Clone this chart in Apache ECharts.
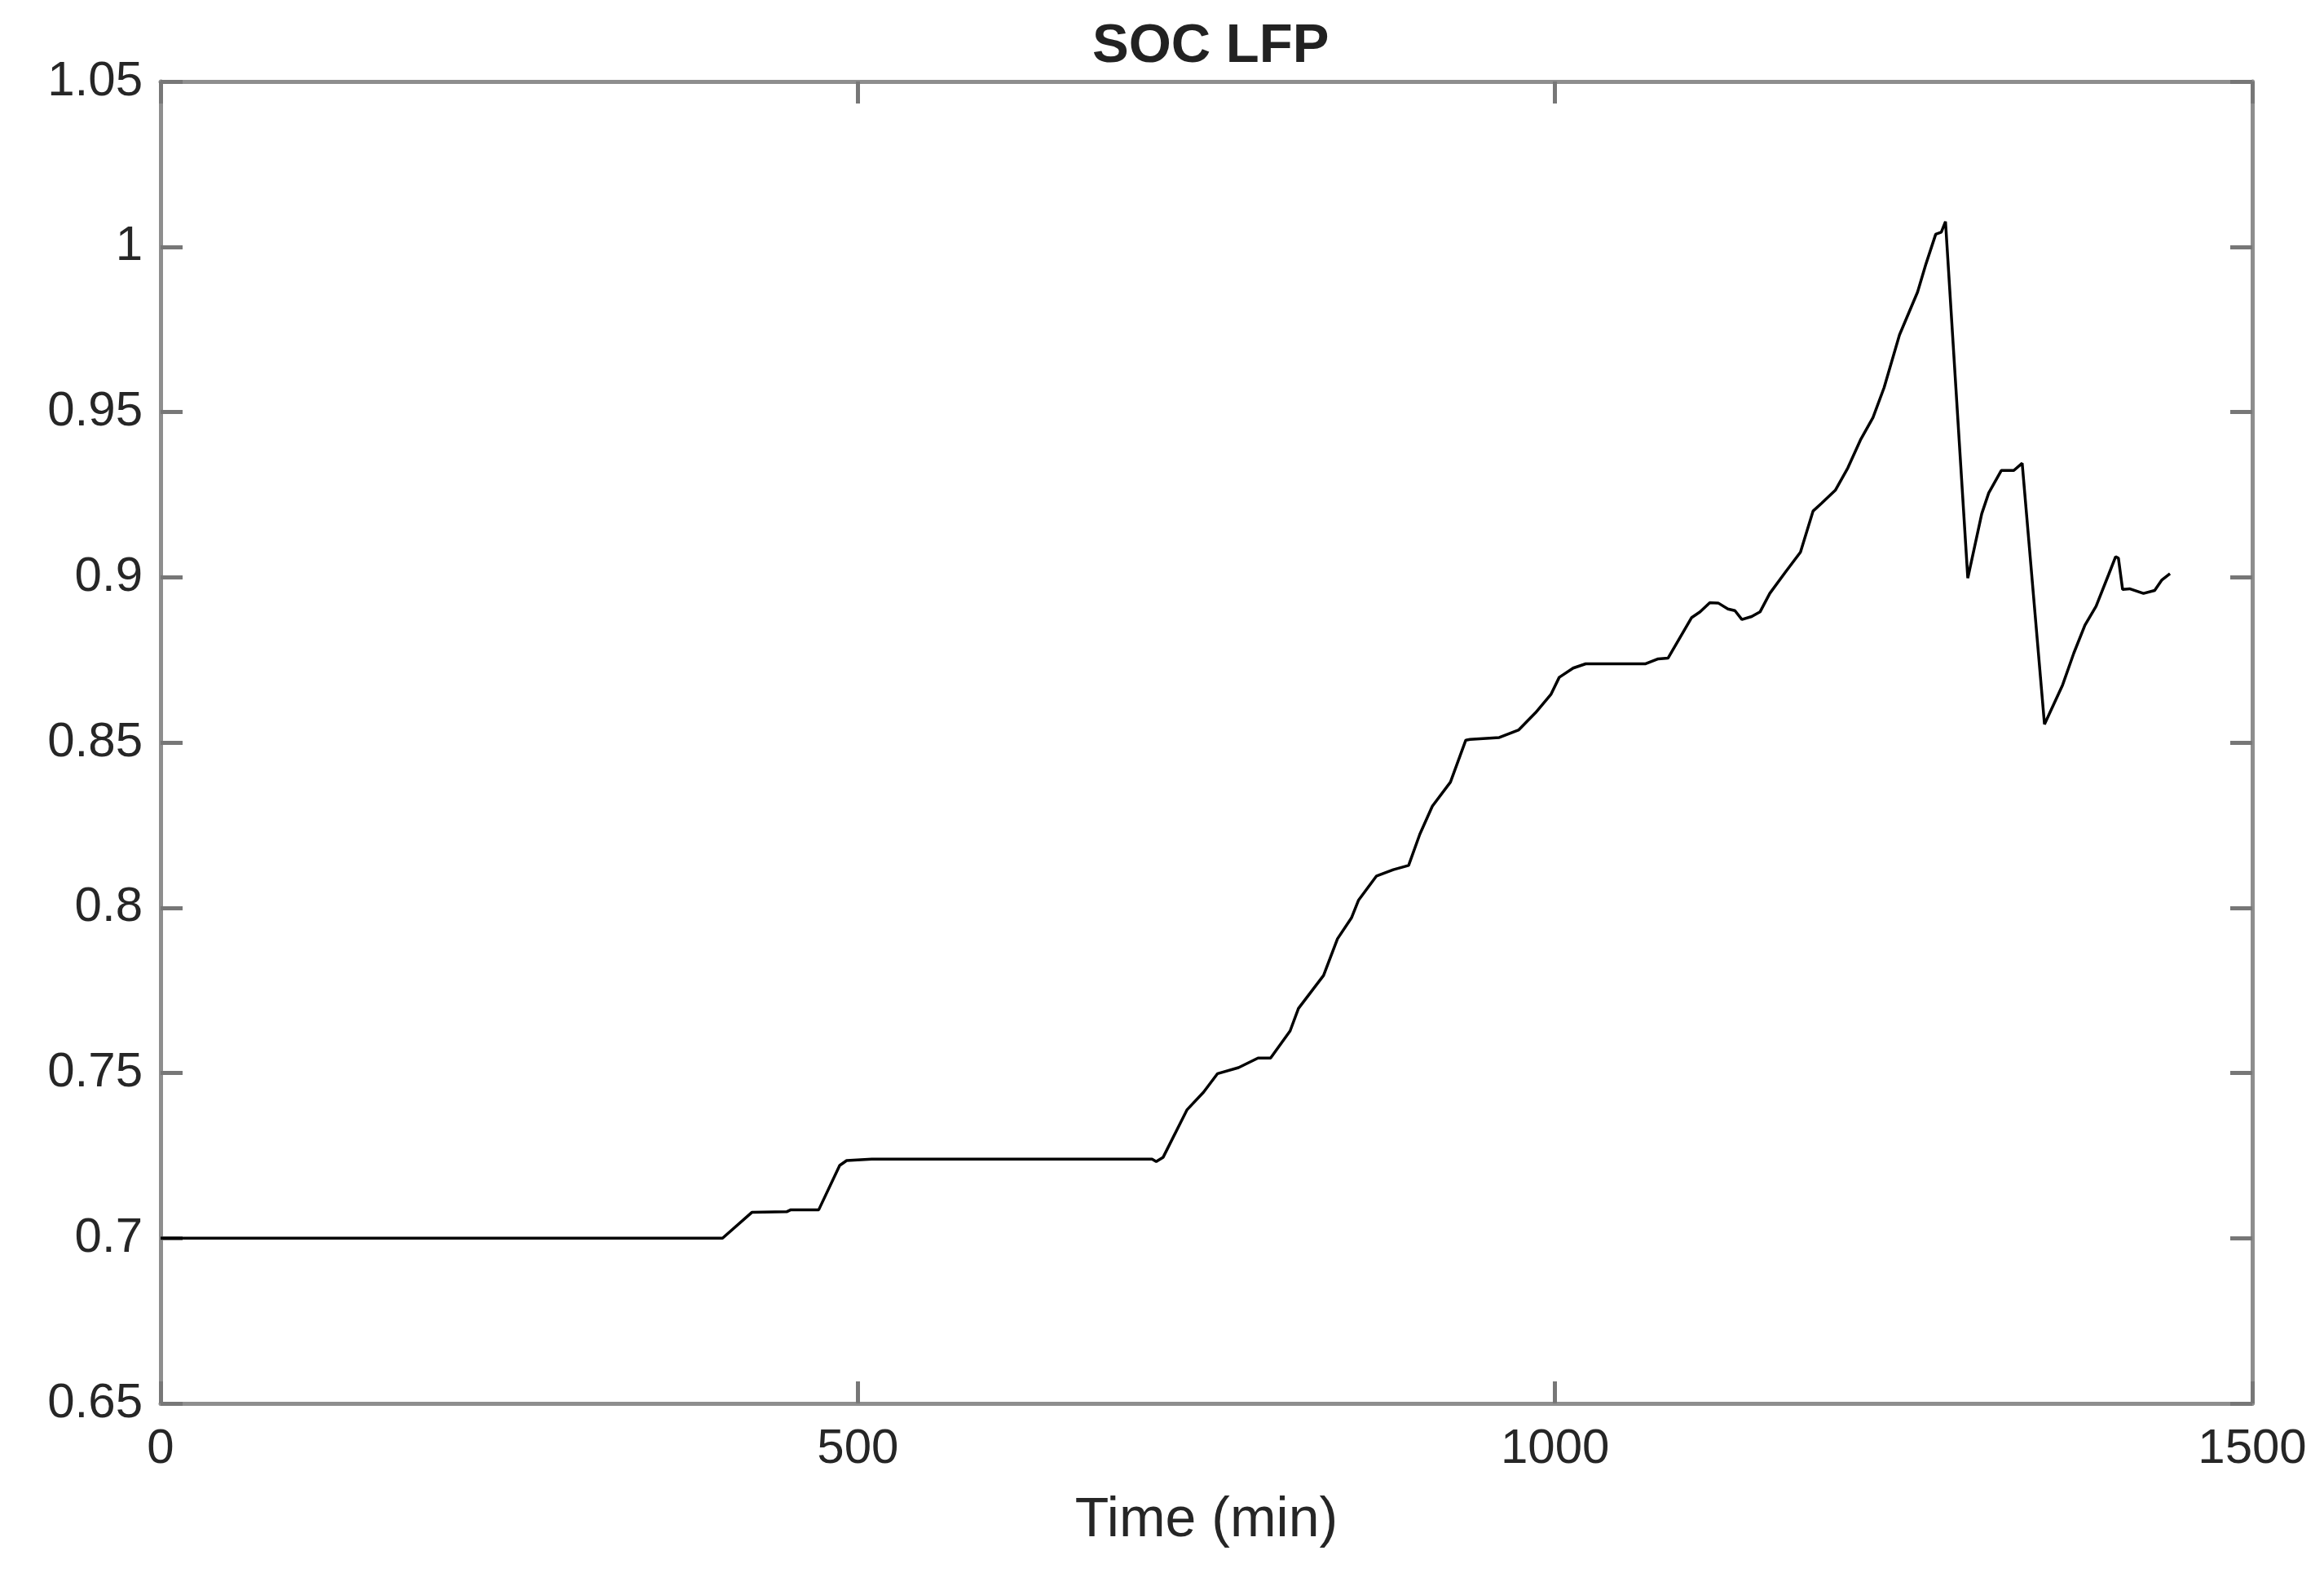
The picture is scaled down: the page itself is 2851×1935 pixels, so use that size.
<!DOCTYPE html>
<html>
<head>
<meta charset="utf-8">
<script src="https://cdn.jsdelivr.net/npm/echarts@6/dist/echarts.min.js"></script>
<style>
html,body{margin:0;padding:0;background:#fff;}
#chart{width:2851px;height:1935px;}
</style>
</head>
<body>
<div id="chart"></div>
<script>
const titleText = 'SOC LFP';
const xAxisName = 'Time (min)';
const timeMin = [0,403,424,449,452,472,487,492,510,711,714,719,736,748,758,773,787,796,810,816,834,844,854,859,872,884,895,903,912,925,936,939,960,974,986,997,1003,1013,1022,1065,1074,1081,1098,1104,1111,1117,1124,1129,1134,1141,1147,1154,1165,1176,1185,1191,1201,1210,1219,1228,1236,1247,1260,1266,1273,1277,1280,1296,1306,1311,1320,1329,1335,1351,1364,1372,1380,1388,1397,1402,1404,1407,1412,1422,1430,1435,1441];
const socValues = [0.700,0.700,0.7078,0.7080,0.7086,0.7086,0.7220,0.7235,0.7239,0.7239,0.7232,0.7245,0.7388,0.7442,0.7498,0.7516,0.7545,0.7545,0.7627,0.7695,0.7795,0.7906,0.7969,0.8022,0.8096,0.8115,0.8128,0.8222,0.8307,0.8380,0.8507,0.8509,0.8515,0.8538,0.8590,0.8645,0.8697,0.8725,0.8738,0.8738,0.8753,0.8755,0.8878,0.8895,0.8923,0.8922,0.8904,0.8899,0.8872,0.8881,0.8895,0.8951,0.9014,0.9076,0.9200,0.9223,0.9263,0.9331,0.9415,0.9483,0.9574,0.9733,0.9863,0.9948,1.0038,1.0044,1.0076,0.8997,0.9192,0.9255,0.9323,0.9323,0.9345,0.8555,0.8674,0.8770,0.8855,0.8912,0.9008,0.9062,0.9058,0.8963,0.8965,0.8951,0.8960,0.8991,0.9011];
const xRange = [0, 1500, 500];
const yRange = [0.65, 1.05, 0.05];

const seriesData = timeMin.map((t, i) => [t, socValues[i]]);
const FONT = "'Liberation Sans', Arial, Helvetica, sans-serif";
const axisColor = '#8e8e8e';
const tickStyle = {show: true, inside: true, length: 27, lineStyle: {color: '#777', width: 5}};
const lineStyle = {show: true, onZero: false, lineStyle: {color: axisColor, width: 5}};
const yFmt = v => String(parseFloat(Number(v).toFixed(2)));
const xFmt = v => String(Math.round(v));

const chart = echarts.init(document.getElementById('chart'));
chart.setOption({
  animation: false,
  backgroundColor: '#fff',
  title: {
    text: titleText,
    left: 1335,
    top: 19,
    textStyle: {fontFamily: FONT, fontSize: 67, fontWeight: 'bold', color: '#222'}
  },
  grid: {left: 197, right: 88, top: 100, bottom: 213, containLabel: false},
  xAxis: [
    {
      type: 'value', min: xRange[0], max: xRange[1], interval: xRange[2],
      position: 'bottom',
      name: xAxisName, nameLocation: 'middle', nameGap: 110,
      nameTextStyle: {fontFamily: FONT, fontSize: 68, color: '#262626'},
      axisLine: lineStyle, axisTick: tickStyle, splitLine: {show: false},
      axisLabel: {fontFamily: FONT, fontSize: 60, color: '#262626', margin: 26, formatter: xFmt}
    },
    {
      type: 'value', min: xRange[0], max: xRange[1], interval: xRange[2],
      position: 'top',
      axisLine: lineStyle, axisTick: tickStyle, splitLine: {show: false},
      axisLabel: {show: false}
    }
  ],
  yAxis: [
    {
      type: 'value', min: yRange[0], max: yRange[1], interval: yRange[2],
      position: 'left',
      axisLine: lineStyle, axisTick: tickStyle, splitLine: {show: false},
      axisLabel: {fontFamily: FONT, fontSize: 60, color: '#262626', margin: 22, formatter: yFmt}
    },
    {
      type: 'value', min: yRange[0], max: yRange[1], interval: yRange[2],
      position: 'right',
      axisLine: lineStyle, axisTick: tickStyle, splitLine: {show: false},
      axisLabel: {show: false}
    }
  ],
  series: [{
    type: 'line',
    data: seriesData,
    xAxisIndex: 0, yAxisIndex: 0,
    showSymbol: false,
    lineStyle: {color: '#000', width: 3.5},
    z: 5
  }]
});
</script>
</body>
</html>
